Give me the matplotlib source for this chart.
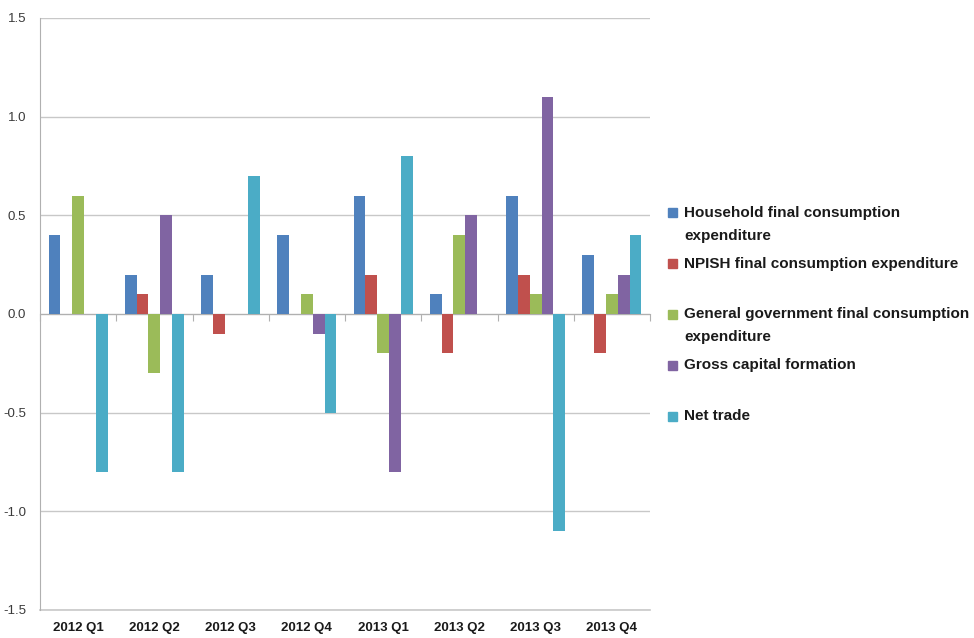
import numpy as np
import matplotlib.pyplot as plt
from matplotlib.patches import Rectangle

# Gegevens
kwartalen = ['2012 Q1', '2012 Q2', '2012 Q3', '2012 Q4', '2013 Q1', '2013 Q2', '2013 Q3', '2013 Q4']
huishoudens = [0.4, 0.2, 0.2, 0.4, 0.6, 0.1, 0.6, 0.3]
npish = [0.0, 0.1, -0.1, 0.0, 0.2, -0.2, 0.2, -0.2]
overheid = [0.6, -0.3, 0.0, 0.1, -0.2, 0.4, 0.1, 0.1]
investeringen = [0.0, 0.5, 0.0, -0.1, -0.8, 0.5, 1.1, 0.2]
netto_handel = [-0.8, -0.8, 0.7, -0.5, 0.8, 0.0, -1.1, 0.4]

reeksen = [huishoudens, npish, overheid, investeringen, netto_handel]
labels = [['Household final consumption', 'expenditure'],
          ['NPISH final consumption expenditure'],
          ['General government final consumption', 'expenditure'],
          ['Gross capital formation'],
          ['Net trade']]
kleuren = ['#4F81BD', '#C0504D', '#9BBB59', '#8064A2', '#4BACC6']

plt.rcParams['font.family'] = ['Liberation Sans', 'DejaVu Sans']

fig = plt.figure(figsize=(9.74, 6.38), dpi=100)
ax = fig.add_axes([40 / 974, 1 - 610 / 638, 610 / 974, 592 / 638])

x = np.arange(len(kwartalen))
breedte = 0.155
for i, (waarden, kleur) in enumerate(zip(reeksen, kleuren)):
    ax.bar(x + (i - 2) * breedte, waarden, breedte, color=kleur, zorder=3)

ax.set_xlim(-0.5, len(kwartalen) - 0.5)
ax.set_ylim(-1.5, 1.5)
yticks = np.arange(-1.5, 1.51, 0.5)
ax.set_yticks(yticks)
ax.set_yticklabels([f'{v:.1f}' for v in yticks], fontsize=9.5, color='#3a3a3a')
ax.yaxis.grid(True, color='#c8c8c8', linewidth=1, zorder=0)
ax.axhline(-1.5, color='#c8c8c8', linewidth=1.2, clip_on=False, zorder=1)
ax.tick_params(axis='y', length=0, pad=10)

# nul-as met streepjes tussen de kwartalen
ax.spines['bottom'].set_position(('data', 0))
ax.spines['bottom'].set_color('#b0b0b0')
ax.set_xticks(np.arange(-0.5, len(kwartalen), 1.0))
ax.set_xticklabels([])
ax.tick_params(axis='x', length=5, color='#b0b0b0', direction='out')
for s in ['top', 'right']:
    ax.spines[s].set_visible(False)
ax.spines['left'].set_color('#b0b0b0')

# kwartaallabels onderaan
sec = ax.secondary_xaxis('bottom')
sec.spines['bottom'].set_visible(False)
sec.set_xticks(x)
sec.set_xticklabels(kwartalen, fontsize=9.5, fontweight='bold', color='#1a1a1a')
sec.tick_params(length=0, pad=9)

# legenda
y_eerste = [213, 264, 314, 365, 416]
for regels, kleur, yp in zip(labels, kleuren, y_eerste):
    fig.patches.append(Rectangle((668 / 974, 1 - (yp + 4.5) / 638), 9 / 974, 9 / 638,
                                 color=kleur, transform=fig.transFigure, figure=fig))
    for j, regel in enumerate(regels):
        fig.text(684 / 974, 1 - (yp + 23 * j) / 638, regel, fontsize=11,
                 fontweight='bold', va='center', ha='left', color='#1a1a1a')

fig.savefig('out.png', dpi=100)
